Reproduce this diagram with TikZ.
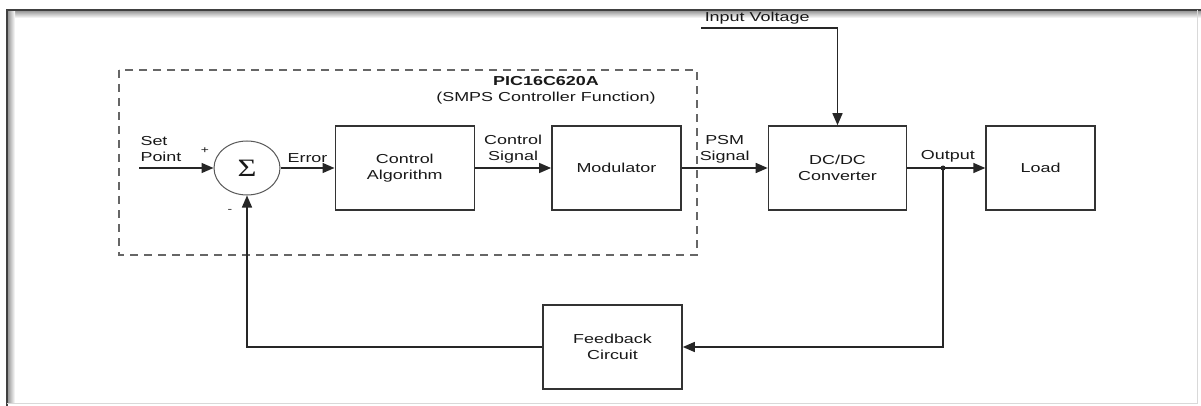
\documentclass[tikz,border=0pt]{standalone}
\usepackage{graphicx,fontspec}
\setmainfont[FakeStretch=1.38]{Liberation Sans}
\newfontfamily\sigmafont[FakeStretch=1.3]{Liberation Serif}
\usetikzlibrary{positioning,arrows.meta,shapes.geometric}

\begin{document}
\begin{tikzpicture}[x=1pt,y=-1pt,->,>={Triangle[length=12pt,width=10pt]},line width=1.5pt,
    draw=black!85,text=black!90,font=\fontsize{13}{16}\selectfont,
    block/.style={rectangle,draw=black!80,line width=1.6pt,minimum height=84pt,align=center,inner sep=0pt},
    sum node/.style={ellipse,draw=black!65,line width=1pt,minimum width=66pt,minimum height=54pt,inner sep=0pt},
    chip box/.style={draw=black!60,line width=1.8pt,dash pattern=on 8pt off 6pt},
    sign/.style={font=\fontsize{10}{10}\selectfont,inner sep=0pt}]

\useasboundingbox (0,0) rectangle (1201,406);
\fill[white] (0,0) rectangle (1201,406);
\shade[top color=black!45,bottom color=white] (7,10) rectangle (1201,18);
\shade[left color=black!45,right color=white] (7,10) rectangle (15,403);
\draw[-,black!75,line width=2pt] (1201,10) -- (7,10) -- (7,406);
\draw[-,black!15,line width=1pt] (7,403) -- (1197,403) -- (1197,10);

\draw[-,chip box] (119,70) rectangle (697,255);
\node[align=center] (chip) at (546,90) {\textbf{PIC16C620A}\\(SMPS Controller Function)};

\node[sum node] (sum) at (247,168) {\sigmafont\fontsize{25}{25}\selectfont Σ};
\node[block,minimum width=139pt] (ctrl) [right=54pt of sum]  {Control\\Algorithm};
\node[block,minimum width=129pt] (mod)  [right=76pt of ctrl] {Modulator};
\node[block,minimum width=138pt] (conv) [right=86pt of mod]  {DC/DC\\Converter};
\node[block,minimum width=109pt] (load) [right=78pt of conv] {Load};
\node[block,minimum width=139pt] (fb)   at (612.5,347)       {Feedback\\Circuit};

\coordinate (setpt) at (139,168);
\coordinate (vin)   at (701,28);
\coordinate (tap)   at (943,168);

\node[align=left,inner sep=0pt] (sptext) at (161,149) {Set\\Point};
\node[sign] (plus)  at (205,151) {+};
\node[sign] (minus) at (230,211) {-};
\node[anchor=west,inner sep=0pt] (vintext) at (704,18) {Input Voltage};

\draw (setpt) -- (sum);
\draw (sum) -- node[above,inner sep=5pt] {Error} (ctrl);
\draw (ctrl) -- node[above,align=center,inner sep=4pt] {Control\\Signal} (mod);
\draw (mod) -- node[above,align=center,inner sep=4pt] {PSM\\Signal} (conv);
\draw (conv) -- node[above,inner sep=5pt,pos=0.52] {Output} (load);
\draw (vin) -| (conv.north);
\fill[black!85] (tap) circle (2.5);
\draw (tap) |- (fb.east);
\draw (fb.west) -| (sum.south);

\end{tikzpicture}
\end{document}
